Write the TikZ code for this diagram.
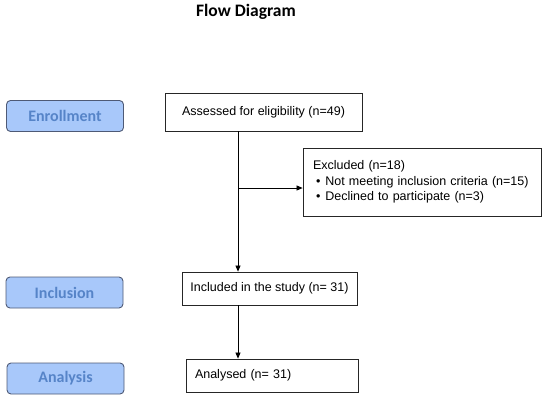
\documentclass[tikz,border=0pt]{standalone}
\usepackage{fontspec}
\setmainfont{Liberation Sans}
\newfontfamily\stagefont{Carlito}
\usepackage{tikz}
\usepackage{xcolor}
\usetikzlibrary{arrows.meta}
\definecolor{cStage}{RGB}{168,200,250}
\definecolor{cStageEdge}{RGB}{78,90,118}
\definecolor{cStageText}{RGB}{86,132,200}
\tikzset{
	stage/.style    ={rectangle, rounded corners=4pt, draw=cStageEdge, line width=0.9pt, fill=cStage, text=cStageText, minimum width=117pt, minimum height=31pt, font=\stagefont\bfseries\fontsize{16}{18}\selectfont},
	flowbox/.style  ={rectangle, draw=black!85, line width=0.8pt, fill=white, font=\fontsize{12.5}{15.5}\selectfont},
	flowarrow/.style={-{Triangle[length=6pt, width=5pt]}, line width=0.7pt},
}

\begin{document}
\begin{tikzpicture}[x=1pt, y=-1pt]
	\useasboundingbox (0,0) rectangle (550,400);
	\node[font=\stagefont\bfseries\fontsize{17.5}{20}\selectfont] (title) at (246,12) {Flow Diagram};
	% stage labels on the left
	\node[stage] (enrol) at (65,116) {Enrollment};
	\node[stage] (incl) at (64.5,292.5) {Inclusion};
	\node[stage] (anal) at (65.5,378.5) {Analysis};
	% flow boxes
	\node[flowbox, minimum width=197pt, minimum height=38pt] (assessed) at (263.5,112) {Assessed for eligibility (n=49)};
	\node[flowbox, minimum width=238pt, minimum height=68pt, text width=218pt, inner xsep=10pt, align=left] (excluded) at (422,182)
		{Excluded (n=18)\\ \hspace*{3pt}\textbullet\hspace{5pt}Not meeting inclusion criteria (n=15)\\ \hspace*{3pt}\textbullet\hspace{5pt}Declined to participate (n=3)};
	\node[flowbox, minimum width=175pt, minimum height=33pt] (included) at (269.5,288.5) {Included in the study (n= 31)};
	\node[flowbox, minimum width=172pt, minimum height=33pt, text width=154pt, inner xsep=9pt, align=left] (analysed) at (272,375.5) {Analysed (n= 31)};
	\coordinate (trunk) at (238,0);
	\coordinate (split) at (238,188);
	\draw[flowarrow] (assessed.south -| trunk) -- (included.north -| trunk);
	\draw[flowarrow] (split) -- (split -| excluded.west);
	\draw[flowarrow] (included.south -| trunk) -- (analysed.north -| trunk);
\end{tikzpicture}
\end{document}
